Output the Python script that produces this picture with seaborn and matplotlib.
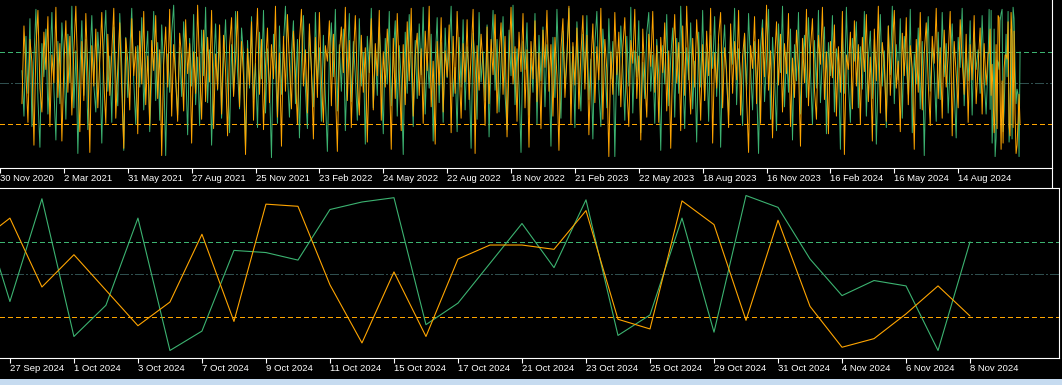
"""
Two-panel oscillator chart (MT4 style): long daily history on top,
zoomed last ~6 weeks below. Levels at 80 / 50 / 10.
"""

import numpy as np
import pandas as pd
import matplotlib
matplotlib.use('Agg')
import matplotlib.pyplot as plt
import seaborn as sns
from matplotlib.lines import Line2D
from matplotlib.patches import Rectangle

GREEN = '#3cb371'
ORANGE = '#ffa500'
LEVEL_GRAY = '#2f4f4f'

# --- 0. Data ---

# history, one value every 2 bars (estimated from the dense top panel)
green_hist = [
    62, 18, 95, 40, 112, 8, 74, 121, 35, -12, 88, 56, 102, 20, 67, 118, 44, -5, 90, 30,
    108, 72, 15, 97, 50, 124, 26, 81, -18, 60, 110, 38, 92, 5, 70, 115, 48, 22, 99, 64,
    -8, 85, 120, 42, 76, 12, 104, 58, 28, 117, 66, -15, 94, 36, 80, 122, 52, 10, 86, 46,
    113, 24, 71, 100, 3, 59, 119, 33, 89, 14, 106, 63, -20, 78, 41, 98, 125, 55, 19, 84,
    37, 109, 68, 0, 93, 47, 116, 29, 75, 9, 101, 57, 123, 31, 82, -10, 65, 107, 43, 96,
    16, 73, 111, 51, 2, 87, 39, 119, 61, 25, 103, 77, -14, 91, 45, 114, 34, 69, 7, 99,
    54, 120, 21, 83, 48, -22, 97, 66, 11, 105, 39, 88, 124, 58, 17, 79, 110, 30, 92, -3,
    71, 115, 44, 6, 100, 62, 27, 118, 50, 84, 13, 96, 36, -16, 74, 108, 56, 121, 23, 87,
    42, 102, 4, 68, 117, 32, 90, 57, 14, 112, 47, 79, -9, 95, 60, 122, 26, 81, 38, 104,
    64, 1, 93, 49, 119, 28, 76, 110, 18, 86, 53, -19, 99, 40, 116, 67, 8, 91, 35, 107,
    58, 123, 20, 78, 45, 97, -6, 70, 113, 31, 89, 12, 103, 55, 82, 124, 37, 65, 3, 94,
    46, 111, 24, 85, 60, -13, 98, 72, 15, 118, 51, 80, 33, 106, -2, 76, 120, 43, 92, 22,
    69, 114, 39, 5, 101, 57, 125, 29, 83, 48, -17, 90, 63, 108, 19, 74, 41, 117, 10, 96,
    52, 104, 27, 87, 66, -11, 94, 36, 121, 59, 16, 100, 45, 79, 122, 30, 85, 7, 109, 61,
    23, 97, 50, 115, 34, 73, -4, 88, 119, 44, 8, 102, 67, 26, 112, 54, 90, -21, 76, 38,
    105, 63, 14, 95, 47, 123, 21, 81, 56, 110, 2, 70, 35, 98, 118, 42, 77, 11, 92, 58,
    -15, 86, 49, 116, 28, 74, 103, 17, 93, 40, 124, 62, 6, 84, 53, 108, 25, 71, -7, 99,
    46, 120, 33, 80, 13, 96, 64, 114, 37, 88, -12, 75, 106, 51, 19, 101, 68, 122, 29, 83,
    57, 9, 97, 43, 117, 65, 24, 90, 48, -18, 85, 111, 32, 72, 121, 15, 94, 55, 4, 107,
    60, 124, 27, 79, 41, 102, -5, 87, 52, 118, 20, 69, 96, 36, 113, 62, 10, 91, 45, 120,
    31, 76, 104, 1, 89, 57, 115, 22, 83, 66, -14, 98, 40, 123, 50, 12, 93, 71, 109, 26,
    85, 44, 119, 18, 74, 100, 35, 92, -9, 63, 116, 47, 81, 7, 105, 58, 124, 30, 87, 53,
    112, 16, 95, 68, 39, 121, 2, 78, 49, 103, 25, 90, -20, 73, 114, 42, 84, 60, 13, 99,
    34, 118, 56, 88, 21, 70, 107, 45, -3, 94, 65, 122, 28, 80, 52, 110, 19, 97, 63, 82,
    40, 115, 55, 20, 72,
]
orange_hist = [
    30, 105, 58, 12, 92, 70, -10, 84, 120, 45, 22, 99, 63, 114, 8, 77, 50, 123, 36, 88,
    -6, 67, 110, 41, 95, 19, 81, 124, 54, 3, 90, 33, 117, 60, -17, 86, 47, 102, 26, 73,
    118, 52, 11, 97, 38, 79, 122, 16, 65, 108, 43, -13, 93, 71, 24, 112, 57, 85, 1, 100,
    49, 119, 29, 76, 9, 91, 62, 115, 35, 82, -20, 68, 104, 46, 121, 18, 87, 55, 13, 98,
    74, 23, 111, 59, 88, -8, 80, 40, 125, 64, 15, 101, 32, 94, 51, 120, 6, 78, 44, 106,
    20, 96, 61, -1, 85, 113, 37, 72, 119, 27, 90, 56, -19, 83, 48, 109, 14, 75, 122, 39,
    92, 5, 66, 103, 31, 87, 54, 124, 17, 79, -11, 95, 42, 116, 69, 25, 100, 58, 10, 89,
    121, 47, 82, 21, 107, 63, -4, 94, 36, 118, 53, 12, 86, 71, 110, 28, 97, 45, -16, 78,
    104, 60, 123, 33, 91, 7, 73, 115, 50, 19, 96, 41, 84, -7, 68, 112, 24, 88, 57, 120,
    14, 80, 46, 102, 66, -14, 93, 35, 117, 59, 4, 87, 29, 109, 52, 122, 18, 76, 98, 38,
    83, 11, 100, 62, 124, 27, 71, -9, 90, 48, 113, 22, 81, 56, 106, 2, 95, 40, 119, 64,
    16, 88, 51, 111, 34, 77, 121, -18, 86, 43, 97, 67, 9, 104, 30, 92, 58, 116, 21, 74,
    108, 39, 95, -2, 70, 123, 49, 85, 13, 99, 61, 117, 26, 82, -12, 90, 54, 110, 32, 79,
    6, 101, 65, 120, 42, 87, 18, 94, 57, -15, 83, 112, 36, 73, 124, 10, 89, 48, 103, 25,
    78, 115, 44, 96, 0, 68, 107, 31, 85, 53, 122, 15, 92, 62, -21, 80, 39, 118, 58, 99,
    27, 84, 113, 47, 8, 91, 69, 121, 35, 76, -5, 102, 55, 17, 97, 66, 119, 41, 86, 12,
    94, 60, 108, 23, 81, -13, 73, 116, 50, 89, 4, 105, 38, 124, 63, 20, 93, 46, 111, 71,
    14, 87, 33, 100, 57, 122, -8, 79, 45, 95, 118, 26, 84, 61, 7, 107, 40, 90, 53, 120,
    19, 76, 98, 37, -17, 86, 64, 114, 30, 92, 11, 103, 56, 125, 43, 81, -3, 70, 109, 48,
    97, 22, 88, 59, 117, 8, 74, 36, 101, 65, -11, 93, 50, 121, 28, 83, 112, 44, 15, 96,
    68, 123, 34, 80, 1, 90, 55, 106, 18, 85, 41, 119, -19, 77, 63, 99, 25, 110, 47, 87,
    10, 94, 61, 116, 32, 75, -6, 102, 52, 124, 21, 89, 67, 13, 105, 38, 82, 120, 45, 71,
    3, 98, 57, 113, 29, 86, 64, -14, 92, 41, 118, 24, 79, 108, 50, 9, 95, 69, 122, 35,
    84, 16, 101, 46, 77, 119, -1, 90, 58, 26, 111, 72, 39, 97, 12, 87, 53, 115, 30, 66,
    103, 20, 88, 48, 79,
]

# last 32 daily bars (26 Sep 2024 .. 8 Nov 2024), shown zoomed in the lower panel
green_recent = [121, 24.5, 120, -8, 21, 102, -21, -3, 72, 70, 63, 110, 117, 121, 3, 23,
                60, 97, 56, 119, -7, 12, 102, -4, 123, 112, 64, 30, 44, 39, -21, 80]
orange_recent = [79, 102, 38, 68, 35, 2, 24, 87, 6, 115, 113, 40, -14, 52, -8, 64,
                 77, 77, 73, 109, 8, -1, 118, 96, 7, 100, 20, -18, -10, 13, 39, 11]

history_labels = ['30 Nov 2020', '2 Mar 2021', '31 May 2021', '27 Aug 2021', '25 Nov 2021',
                  '23 Feb 2022', '24 May 2022', '22 Aug 2022', '18 Nov 2022', '21 Feb 2023',
                  '22 May 2023', '18 Aug 2023', '16 Nov 2023', '16 Feb 2024', '16 May 2024',
                  '14 Aug 2024']
recent_labels = ['27 Sep 2024', '1 Oct 2024', '3 Oct 2024', '7 Oct 2024', '9 Oct 2024',
                 '11 Oct 2024', '15 Oct 2024', '17 Oct 2024', '21 Oct 2024', '23 Oct 2024',
                 '25 Oct 2024', '29 Oct 2024', '31 Oct 2024', '4 Nov 2024', '6 Nov 2024',
                 '8 Nov 2024']

levels = [80, 50, 10]
level_colors = [GREEN, LEVEL_GRAY, ORANGE]
level_dashes = [(4, 3), (8, 2.5, 1.5, 2.5), (4, 3)]


# --- 1. Long-format frames ---
n_hist = len(green_hist)
top_x = np.concatenate([np.arange(n_hist) * 2, n_hist * 2 - 1 + np.arange(len(green_recent))])
top = pd.DataFrame({
    'bar': np.tile(top_x, 2),
    'value': green_hist + green_recent + orange_hist + orange_recent,
    'series': ['green'] * len(top_x) + ['orange'] * len(top_x),
})
bot_x = np.arange(len(green_recent))
bottom = pd.DataFrame({
    'bar': np.tile(bot_x, 2),
    'value': green_recent + orange_recent,
    'series': ['green'] * len(bot_x) + ['orange'] * len(bot_x),
})
palette = {'green': GREEN, 'orange': ORANGE}


# --- 2. Figure ---
sns.set_style('dark', {'axes.facecolor': 'black', 'figure.facecolor': 'black'})
plt.rcParams['font.family'] = ['Liberation Sans', 'DejaVu Sans']

W, H = 1062, 385
fig = plt.figure(figsize=(W / 100, H / 100), dpi=100, facecolor='black')
ax_top = fig.add_axes([0, 1 - 168 / H, 1052 / W, 168 / H])
ax_bot = fig.add_axes([0, 1 - 358 / H, 1059 / W, 170 / H])

for ax, df, lw in [(ax_top, top, 0.7), (ax_bot, bottom, 0.8)]:
    # level lines, crisp 1px like the terminal draws them
    for lvl, c, d in zip(levels, level_colors, level_dashes):
        ax.axhline(lvl, color=c, lw=0.75, dashes=d, zorder=1, antialiased=False)
    sns.lineplot(data=df, x='bar', y='value', hue='series', palette=palette,
                 estimator=None, sort=False, lw=lw, legend=False, ax=ax, zorder=2)
    ax.set_facecolor('black')
    ax.grid(False)
    ax.set_xlabel('')
    ax.set_ylabel('')
    ax.set_yticks([])
    ax.spines['left'].set_visible(False)
    for s in ['bottom', 'right', 'top']:
        ax.spines[s].set_color('white')
        ax.spines[s].set_linewidth(0.8)
    ax.tick_params(axis='x', colors='white', direction='out', length=3.5, width=0.8,
                   pad=1, labelsize=6.8, bottom=True)

ax_top.spines['top'].set_visible(False)

# top panel axis: 64 bars between labels, last label 62 bars before the end
last = top_x[-1]
top_ticks = last - 62 - 64 * np.arange(len(history_labels))[::-1]
ax_top.set_xlim(last - 1020, last + 32)
ax_top.set_ylim(-32, 130)
ax_top.set_xticks(top_ticks)
ax_top.set_xticklabels(history_labels, ha='left')

# lower panel axis: label every second bar
ax_bot.set_xlim(0.69, 33.78)
ax_bot.set_ylim(-28, 130)
ax_bot.set_xticks(np.arange(1, 2 * len(recent_labels), 2))
ax_bot.set_xticklabels(recent_labels, ha='left')

# small frame pieces and the status strip at the bottom
fig.add_artist(Line2D([1052 / W, 1052 / W], [1 - 188 / H, 1 - 168 / H], color='white', lw=0.8))
fig.add_artist(Rectangle((0, 0), 1, 6 / H, transform=fig.transFigure,
                         facecolor='#c6dbf0', edgecolor='none'))

fig.savefig('out.png', dpi=100, facecolor='black')
